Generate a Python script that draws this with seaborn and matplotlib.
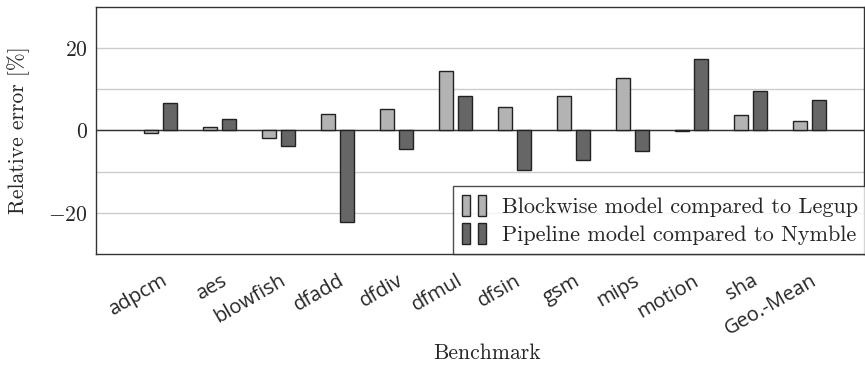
import matplotlib
matplotlib.use('Agg')
import matplotlib.pyplot as plt
import seaborn as sns
import pandas as pd
from matplotlib.patches import Patch
from matplotlib.legend_handler import HandlerTuple
from matplotlib.ticker import FixedLocator

sns.set_style('white')
plt.rcParams['font.family'] = ['cmr10', 'DejaVu Serif']
plt.rcParams['mathtext.fontset'] = 'cm'
plt.rcParams['axes.formatter.use_mathtext'] = True

benchmarks = ['adpcm', 'aes', 'blowfish', 'dfadd', 'dfdiv', 'dfmul', 'dfsin',
              'gsm', 'mips', 'motion', 'sha', 'Geo.-Mean']
blockwise = [-0.7, 0.8, -1.9, 4.0, 5.1, 14.4, 5.7, 8.3, 12.7, -0.1, 3.7, 2.3]
pipeline = [6.7, 2.8, -3.7, -22.2, -4.5, 8.3, -9.5, -7.2, -5.1, 17.4, 9.6, 7.4]
series = ['Blockwise model compared to Legup', 'Pipeline model compared to Nymble']

light = '#b3b3b3'
dark = '#666666'

df = pd.DataFrame({
    'Benchmark': benchmarks * 2,
    'error': blockwise + pipeline,
    'model': [series[0]] * len(benchmarks) + [series[1]] * len(benchmarks),
})

fig = plt.figure(figsize=(8.65, 3.65), dpi=100)
ax = fig.add_axes([0.111, 0.304, 0.888, 0.677])

sns.barplot(data=df, x='Benchmark', y='error', hue='model', order=benchmarks,
            hue_order=series, palette=[light, dark], width=0.64, gap=0.26,
            errorbar=None, edgecolor='#222222', linewidth=1.0, legend=False,
            ax=ax, zorder=3)

ax.set_xlim(-1.1, 11.92)
ax.set_ylim(-30, 30)

# grid every 10, labels every 20
ax.yaxis.set_major_locator(FixedLocator([-20, 0, 20]))
ax.yaxis.set_minor_locator(FixedLocator([-10, 10]))
ax.set_yticklabels(['$-20$', '$0$', '$20$'], fontsize=15.5)
ax.grid(True, axis='y', which='both', color='#cccccc', linewidth=1.0, zorder=0)
ax.axhline(0, color='#333333', linewidth=1.0, zorder=2)
ax.tick_params(axis='y', which='both', direction='in', length=5, color='#999999', pad=6)

ax.tick_params(axis='x', direction='out', length=10, color='#aaaaaa', width=1, pad=2)
for lbl in ax.get_xticklabels():
    lbl.set_rotation(30)
    lbl.set_ha('right')
    lbl.set_rotation_mode('anchor')
    lbl.set_fontfamily('Open Sans')
    lbl.set_fontsize(14.5)

for sp in ax.spines.values():
    sp.set_color('#333333')
    sp.set_linewidth(1.0)

ax.set_xlabel('Benchmark', fontsize=15.5)
ax.xaxis.set_label_coords(0.509, -0.36)
ax.set_ylabel('Relative error [%]', fontsize=15.5)
ax.yaxis.set_label_coords(-0.086, 0.5)

handles = [
    (Patch(facecolor=light, edgecolor='#222222'), Patch(facecolor=light, edgecolor='#222222')),
    (Patch(facecolor=dark, edgecolor='#222222'), Patch(facecolor=dark, edgecolor='#222222')),
]
leg = ax.legend(handles, series, loc='lower right', bbox_to_anchor=(1.003, 0.0),
                handler_map={tuple: HandlerTuple(ndivide=None, pad=0.35)},
                handlelength=1.1, handleheight=1.1, handletextpad=0.7,
                fontsize=16, frameon=True, fancybox=False, borderpad=0.4,
                labelspacing=0.25, borderaxespad=0)
leg.get_frame().set_edgecolor('#222222')
leg.get_frame().set_linewidth(1.0)
leg.set_zorder(5)

fig.savefig('out.png', dpi=100)
